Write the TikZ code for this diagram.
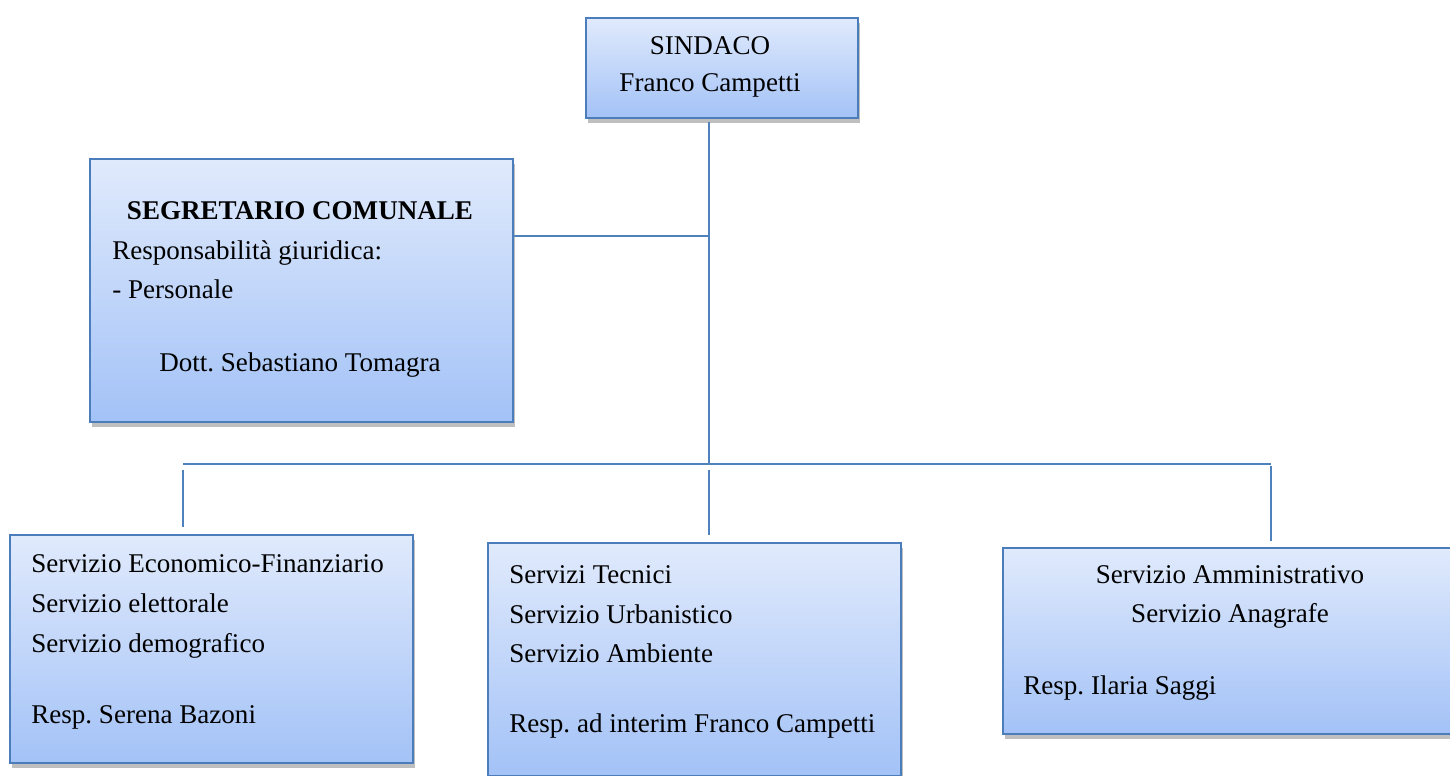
\documentclass[tikz,border=0pt]{standalone}
\usepackage{fontspec}
\setmainfont{Liberation Serif}
\usetikzlibrary{positioning,shadows}
\definecolor{linkblue}{HTML}{4F81BD}
\definecolor{boxtop}{HTML}{E0EAFC}
\definecolor{boxbot}{HTML}{A3C2F7}
\definecolor{boxline}{HTML}{4A7DBA}
\frenchspacing

\begin{document}
\begin{tikzpicture}[x=0.02cm,y=-0.02cm,
  box/.style={draw=boxline, line width=1.1pt, top color=boxtop, bottom color=boxbot,
    inner sep=0pt, outer sep=0pt,
    drop shadow={shadow xshift=1.2pt, shadow yshift=-2.8pt, opacity=0.5}},
  link/.style={draw=linkblue, line width=1.1pt},
  txt/.style={inner sep=0pt, font=\fontsize{15.4}{22.8}\selectfont}]
\clip (0,0) rectangle (1450,776);
\fill[white] (0,0) rectangle (1450,776);

% boxes
\node[box, minimum width=5.44cm, minimum height=2cm] (sindaco) at (722,68) {};
\node[box, minimum width=8.46cm, minimum height=5.26cm] (segr) at (301.5,290.5) {};
\node[box, minimum width=8.06cm, minimum height=4.56cm] (econ) at (211.5,649) {};
\node[box, minimum width=8.26cm, minimum height=4.66cm] (tecn) at (694.5,659.5) {};
\node[box, minimum width=9.34cm, minimum height=3.72cm] (amm) at (1236.5,641) {};

% texts
\node[txt, anchor=base] (sindT) at (710,55) {SINDACO};
\node[txt, anchor=base] (sindN) at (710,92) {Franco Campetti};

\node[txt, anchor=base, font=\fontsize{15.4}{22.8}\selectfont\bfseries] (segrT) at (300,220) {SEGRETARIO COMUNALE};
\node[txt, anchor=base west] (segrA) at (112,260) {Responsabilità giuridica:};
\node[txt, anchor=base west] (segrB) at (112,299) {- Personale};
\node[txt, anchor=base] (segrN) at (300,372) {Dott. Sebastiano Tomagra};

\node[txt, anchor=base west] (econA) at (31,572) {Servizio Economico-Finanziario};
\node[txt, anchor=base west] (econB) at (31,612) {Servizio elettorale};
\node[txt, anchor=base west] (econC) at (31,652) {Servizio demografico};
\node[txt, anchor=base west] (econN) at (31,723) {Resp. Serena Bazoni};

\node[txt, anchor=base west] (tecnA) at (509,583) {Servizi Tecnici};
\node[txt, anchor=base west] (tecnB) at (509,623) {Servizio Urbanistico};
\node[txt, anchor=base west] (tecnC) at (509,662) {Servizio Ambiente};
\node[txt, anchor=base west] (tecnN) at (509,732) {Resp. ad interim Franco Campetti};

\node[txt, anchor=base] (ammA) at (1230,583) {Servizio Amministrativo};
\node[txt, anchor=base] (ammB) at (1230,622) {Servizio Anagrafe};
\node[txt, anchor=base west] (ammN) at (1023,694) {Resp. Ilaria Saggi};

% connectors
\coordinate (sj) at (709,236);
\coordinate (hub) at (709,464);
\coordinate (busL) at (183,464);
\coordinate (busR) at (1271,464);

\draw[link, shorten <=0.08cm] (sindaco.south -| hub) -- (hub);
\draw[link] (segr.east |- sj) -- (sj);
\draw[link] (busL) -- (busR);
\draw[link, shorten <=0.12cm, shorten >=0.16cm] (busL) -- (econ.north -| busL);
\draw[link, shorten <=0.12cm, shorten >=0.16cm] (hub) -- (tecn.north -| hub);
\draw[link, shorten <=0.04cm, shorten >=0.14cm] (busR) -- (amm.north -| busR);
\end{tikzpicture}
\end{document}
